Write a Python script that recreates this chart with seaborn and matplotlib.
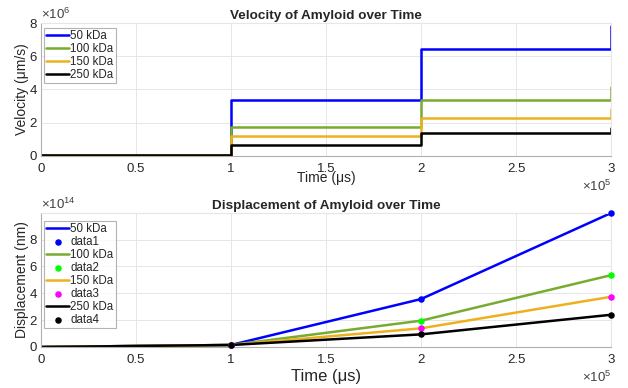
import matplotlib
matplotlib.use("Agg")
import matplotlib.pyplot as plt
import matplotlib.ticker as mticker
import seaborn as sns

# time points (us)
time = [0, 1e5, 2e5, 3e5]
labels = ["50 kDa", "100 kDa", "150 kDa", "250 kDa"]

# velocity (um/s), step values
vel_50 = [0.08e6, 3.37e6, 6.41e6, 7.82e6]
vel_100 = [0.08e6, 1.72e6, 3.37e6, 4.12e6]
vel_150 = [0.08e6, 1.18e6, 2.28e6, 2.81e6]
vel_250 = [0.08e6, 0.69e6, 1.40e6, 1.70e6]

# displacement (nm)
disp_50 = [0, 0.15e14, 3.57e14, 9.98e14]
disp_100 = [0, 0.15e14, 1.96e14, 5.35e14]
disp_150 = [0, 0.15e14, 1.39e14, 3.74e14]
disp_250 = [0, 0.15e14, 0.94e14, 2.40e14]

line_colors = ["#0000ff", "#77ac30", "#edb120", "#000000"]
dot_colors = ["#0000ff", "#00ff00", "#ff00ff", "#000000"]

sns.set_style("white")
plt.rcParams["font.family"] = ["Liberation Sans", "DejaVu Sans"]
plt.rcParams["mathtext.fontset"] = "custom"
plt.rcParams["mathtext.rm"] = "Liberation Sans"


class GFormatter(mticker.ScalarFormatter):
    # matlab style ticks: 1, 1.5, 2 ... with x10^n offset
    def _set_format(self):
        self.format = "%g"


fig = plt.figure(figsize=(6.28, 3.88), dpi=100)
ax1 = fig.add_axes([0.0653, 0.598, 0.9077, 0.3427])
ax2 = fig.add_axes([0.0653, 0.1057, 0.9077, 0.3453])


def style_axes(ax):
    ax.grid(True, color="#e6e6e6", linewidth=0.7)
    for side in ["top", "right"]:
        ax.spines[side].set_color("#e6e6e6")
    for side in ["left", "bottom"]:
        ax.spines[side].set_color("#b0b0b0")
    ax.tick_params(axis="both", labelsize=9.5, colors="#262626", length=0)
    ax.tick_params(axis="x", pad=5)
    ax.tick_params(axis="y", pad=3)
    ax.set_xlim(0, 3e5)
    ax.set_xticks([0, 0.5e5, 1e5, 1.5e5, 2e5, 2.5e5, 3e5])
    for axis in [ax.xaxis, ax.yaxis]:
        fmt = GFormatter(useMathText=True)
        fmt.set_powerlimits((0, 0))
        axis.set_major_formatter(fmt)
        axis.get_offset_text().set_fontsize(9.5)
        axis.get_offset_text().set_color("#404040")


def style_legend(ax, top):
    leg = ax.legend(loc="upper left", bbox_to_anchor=(0.005, top), fontsize=8.3,
                    frameon=True, fancybox=False, handlelength=2.0,
                    handletextpad=0.1, borderpad=0.2, labelspacing=0.08,
                    borderaxespad=0.0)
    leg.get_frame().set_edgecolor("#a0a0a0")
    leg.get_frame().set_linewidth(0.8)


# velocity
vels = [vel_50, vel_100, vel_150, vel_250]
for v, c, lab in zip(vels, line_colors, labels):
    sns.lineplot(x=time, y=v, ax=ax1, color=c, linewidth=1.8, label=lab,
                 drawstyle="steps-post")
style_axes(ax1)
ax1.set_ylim(0, 8e6)
ax1.set_yticks([0, 2e6, 4e6, 6e6, 8e6])
ax1.set_title("Velocity of Amyloid over Time", fontsize=9.7, fontweight="bold", pad=3)
ax1.set_ylabel("Velocity (μm/s)", fontsize=10, labelpad=0)
ax1.set_xlabel("Time (μs)", fontsize=10, labelpad=-3)
style_legend(ax1, 0.965)

# displacement
disps = [disp_50, disp_100, disp_150, disp_250]
for i, (d, c, dc, lab) in enumerate(zip(disps, line_colors, dot_colors, labels)):
    sns.lineplot(x=time, y=d, ax=ax2, color=c, linewidth=1.8, label=lab)
    sns.scatterplot(x=time[1:], y=d[1:], ax=ax2, color=dc, s=22, edgecolor=dc,
                    linewidth=0, label=f"data{i + 1}", zorder=3, clip_on=False)
style_axes(ax2)
ax2.set_ylim(0, 9.98e14)
ax2.set_yticks([0, 2e14, 4e14, 6e14, 8e14])
ax2.set_title("Displacement of Amyloid over Time", fontsize=9.7, fontweight="bold", pad=3)
ax2.set_ylabel("Displacement (nm)", fontsize=10, labelpad=0)
ax2.set_xlabel("Time (μs)", fontsize=12, labelpad=2)
style_legend(ax2, 0.94)

fig.savefig("out.png", dpi=100)
